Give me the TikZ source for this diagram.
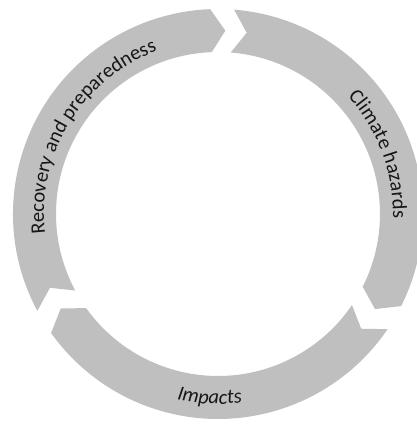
\documentclass[tikz,border=0pt]{standalone}
\usepackage{fontspec}
\setmainfont{Carlito}
\usetikzlibrary{decorations.text}
\definecolor{ringgray}{RGB}{191,191,191}
\definecolor{txtgray}{RGB}{22,22,22}
\begin{document}
\begin{tikzpicture}[x=1pt,y=1pt,
  seg/.style={fill=ringgray, draw=none},
  lbl/.style={decorate, decoration={text along path, text align=center, text color=txtgray, text={#1}}}]
\useasboundingbox (-218,-212) rectangle (199,214);
\def\Ro{205}\def\Ri{162}\def\Rm{183.5}\def\dd{4.5}
\newcommand\cyclearrow[2]{%
  \fill[seg] (#1:\Ro) arc[start angle=#1, end angle=#2, radius=\Ro] -- ({#2-\dd}:\Rm) -- (#2:\Ri)
    arc[start angle=#2, end angle=#1, radius=\Ri] -- ({#1-\dd}:\Rm) -- cycle;}
\cyclearrow{208.2}{92.2}
\cyclearrow{85.5}{-26.7}
\cyclearrow{-34.2}{-144.5}
\path[lbl={|\fontsize{20.5}{24}\selectfont|Recovery and preparedness}]
  (208.5:174) arc[start angle=208.5, end angle=88.5, radius=174];
\path[lbl={|\fontsize{20.5}{24}\selectfont|Climate hazards}]
  (80.4:175) arc[start angle=80.4, end angle=-39.6, radius=175];
\path[lbl={|\fontsize{20.5}{24}\selectfont\itshape|Impacts}]
  (207.4:190) arc[start angle=207.4, end angle=327.4, radius=190];
\end{tikzpicture}
\end{document}
